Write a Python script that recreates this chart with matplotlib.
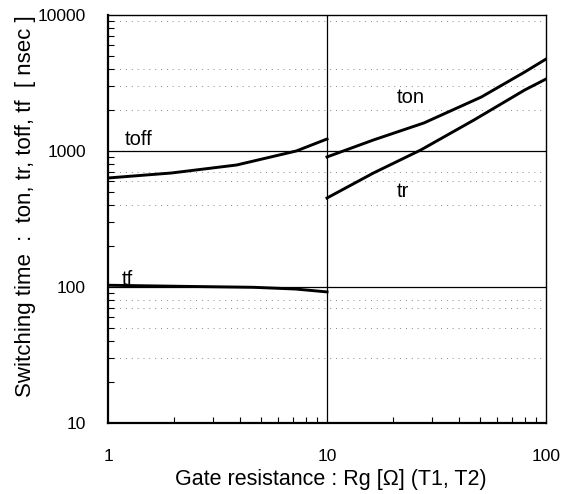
import matplotlib
matplotlib.use("Agg")
import matplotlib.pyplot as plt
from matplotlib.ticker import LogLocator, NullFormatter, FixedLocator, FixedFormatter

plt.rcParams['font.family'] = ['Liberation Sans', 'DejaVu Sans']

# values
rg_off = [1.0, 1.95, 3.87, 7.24, 10.0]
toff = [633, 689, 789, 1000, 1225]

rg_tf = [1.0, 2.3, 4.6, 7.2, 10.0]
tf = [103, 101, 99.5, 96.6, 92]

rg_on = [10.0, 16.3, 27.7, 50.7, 80.0, 100.0]
ton = [904, 1205, 1607, 2495, 3810, 4740]

rg_tr = [10.0, 16.3, 26.8, 46.9, 80.0, 100.0]
tr = [451, 689, 1017, 1690, 2810, 3380]

dotted_levels = [9000, 4000, 3000, 2000, 700, 600, 400, 80, 70, 50, 30]
solid_levels = [1000, 100]

x_ticks = [1, 10, 100]
x_ticklabels = ["1", "10", "100"]
y_ticks = [10, 100, 1000, 10000]
y_ticklabels = ["10", "100", "1000", "10000"]

fig = plt.figure(figsize=(5.73, 4.94), dpi=100)
ax = fig.add_axes([0.1885, 0.1437, 0.7644, 0.826])
ax.set_xscale("log")
ax.set_yscale("log")
ax.set_xlim(1, 100)
ax.set_ylim(10, 10000)

# grid
for lv in dotted_levels:
    ax.axhline(lv, color="#888888", lw=0.7, ls=(0, (1, 5)), zorder=1)
for lv in solid_levels:
    ax.axhline(lv, color="black", lw=0.9, zorder=2)
ax.axvline(10, color="black", lw=0.9, zorder=2)

# curves
lw = 2.1
ax.plot(rg_off, toff, color="black", lw=lw, zorder=3)
ax.plot(rg_tf, tf, color="black", lw=lw, zorder=3)
ax.plot(rg_on, ton, color="black", lw=lw, zorder=3)
ax.plot(rg_tr, tr, color="black", lw=lw, zorder=3)

fs_lab = 14.5
ax.text(1.19, 1107, "toff", fontsize=fs_lab, ha="left", va="baseline")
ax.text(20.8, 2255, "ton", fontsize=fs_lab, ha="left", va="baseline")
ax.text(20.8, 459, "tr", fontsize=fs_lab, ha="left", va="baseline")
ax.text(1.16, 104, "tf", fontsize=fs_lab, ha="left", va="baseline")

# ticks
ax.xaxis.set_major_locator(FixedLocator(x_ticks))
ax.xaxis.set_major_formatter(FixedFormatter(x_ticklabels))
ax.yaxis.set_major_locator(FixedLocator(y_ticks))
ax.yaxis.set_major_formatter(FixedFormatter(y_ticklabels))
ax.xaxis.set_minor_locator(LogLocator(base=10, subs=range(2, 10)))
ax.yaxis.set_minor_locator(LogLocator(base=10, subs=range(2, 10)))
ax.xaxis.set_minor_formatter(NullFormatter())
ax.yaxis.set_minor_formatter(NullFormatter())
ax.tick_params(which="major", direction="in", length=0, labelsize=12.5)
ax.tick_params(axis="x", which="major", pad=19)
ax.tick_params(axis="y", which="major", pad=16)
ax.tick_params(which="minor", direction="in", length=4, width=0.8)

for side in ["left", "bottom"]:
    ax.spines[side].set_linewidth(1.6)
for side in ["top", "right"]:
    ax.spines[side].set_linewidth(1.0)

ax.set_xlabel("Gate resistance : Rg [Ω] (T1, T2)", fontsize=15.5)
ax.set_ylabel("Switching time  :  ton, tr, toff, tf  [ nsec ]", fontsize=16)
ax.xaxis.set_label_coords(0.509, -0.113)
ax.yaxis.set_label_coords(-0.165, 0.532)

fig.savefig("out.png", dpi=100)
